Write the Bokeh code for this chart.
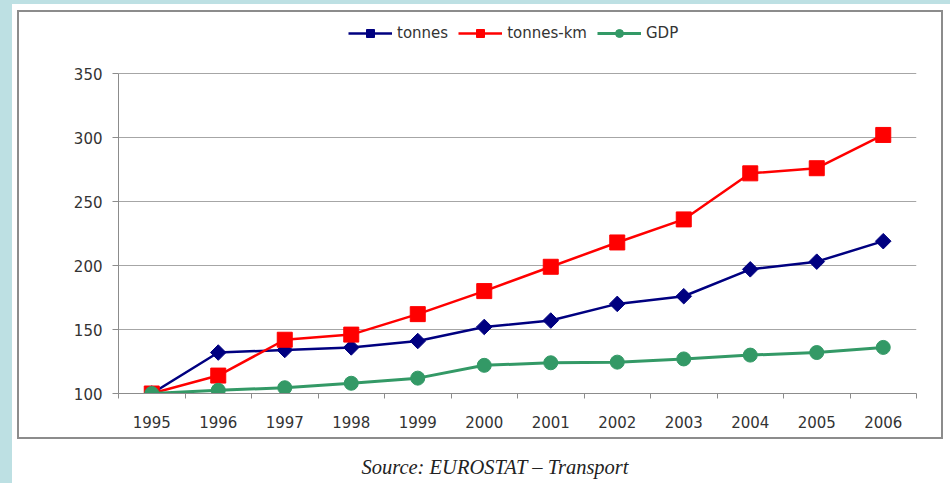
import math
from bokeh.plotting import figure
from bokeh.models import Range1d, FixedTicker, Legend, LegendItem, Div
from bokeh.layouts import column
from bokeh.embed import file_html
from bokeh.resources import INLINE

# ---- data ----
years = [1995, 1996, 1997, 1998, 1999, 2000, 2001, 2002, 2003, 2004, 2005, 2006]
tonnes = [100, 132, 134, 136, 141, 152, 157, 170, 176, 197, 203, 219]
tonnes_km = [100, 114, 142, 146, 162, 180, 199, 218, 236, 272, 276, 302]
gdp = [100, 102.5, 104.5, 108, 112, 122, 124, 124.5, 127, 130, 132, 136]
y_ticks = [100, 150, 200, 250, 300, 350]
x_labels = [str(y) for y in years]
source_text = "Source: EUROSTAT \u2013 Transport"

FONT = "DejaVu Sans"
TXT = "#333333"

# frame extends above the 350 line to hold the legend (320 px for 250 units)
y_top = y_ticks[-1] + 59 * (y_ticks[-1] - y_ticks[0]) / 320

p = figure(width=926, height=429, output_backend="svg", toolbar_location=None,
           x_range=Range1d(years[0] - 0.5, years[-1] + 0.5),
           y_range=Range1d(y_ticks[0], y_top),
           min_border_left=99, min_border_right=29, min_border_top=2, min_border_bottom=48)
p.margin = (6, 0, 0, 5)
p.styles = {"border": "2px solid #8C8C8C"}
p.background_fill_color = "white"
p.border_fill_color = "white"
p.outline_line_color = None

# x axis: labels at centres, ticks at boundaries
p.xaxis.ticker = FixedTicker(ticks=years, minor_ticks=[y - 0.5 for y in years] + [years[-1] + 0.5])
p.xaxis.major_label_overrides = {y: s for y, s in zip(years, x_labels)}
p.xaxis.major_tick_out = 0
p.xaxis.major_tick_in = 0
p.xaxis.minor_tick_out = 5
p.xaxis.minor_tick_in = 0
p.xaxis.minor_tick_line_color = "#8C8C8C"
p.xaxis.axis_line_color = "#8C8C8C"
p.xaxis.major_label_standoff = 17
p.xaxis.major_label_text_font = FONT
p.xaxis.major_label_text_font_size = "15px"
p.xaxis.major_label_text_color = TXT

p.yaxis.ticker = FixedTicker(ticks=y_ticks)
p.yaxis.bounds = (y_ticks[0], y_ticks[-1])
p.yaxis.major_tick_out = 6
p.yaxis.major_tick_in = 0
p.yaxis.minor_tick_line_color = None
p.yaxis.major_tick_line_color = "#8C8C8C"
p.yaxis.axis_line_color = "#8C8C8C"
p.yaxis.major_label_standoff = 10
p.yaxis.major_label_text_font = FONT
p.yaxis.major_label_text_font_size = "15px"
p.yaxis.major_label_text_color = TXT

p.xgrid.grid_line_color = None
p.ygrid.ticker = FixedTicker(ticks=y_ticks)
p.ygrid.grid_line_color = "#A6A6A6"
p.ygrid.grid_line_width = 1

NAVY = "#000080"
RED = "#FF0000"
GREEN = "#339966"

l1 = p.line(years, tonnes, line_color=NAVY, line_width=2.5)
m1 = p.scatter(years, tonnes, marker="square", size=11, angle=math.pi / 4,
               fill_color=NAVY, line_color=NAVY)
l2 = p.line(years, tonnes_km, line_color=RED, line_width=2.5)
m2 = p.scatter(years, tonnes_km, marker="square", size=15, fill_color=RED, line_color=RED)
l3 = p.line(years, gdp, line_color=GREEN, line_width=3)
m3 = p.scatter(years, gdp, marker="circle", size=14, fill_color=GREEN, line_color=GREEN)

legend = Legend(items=[
    LegendItem(label="tonnes", renderers=[l1, m1]),
    LegendItem(label="tonnes-km", renderers=[l2, m2]),
    LegendItem(label="GDP", renderers=[l3, m3]),
], orientation="horizontal", location=(230, 350))
legend.label_text_font = FONT
legend.label_text_font_size = "15px"
legend.label_text_color = TXT
legend.glyph_width = 44
legend.glyph_height = 20
legend.label_standoff = 5
legend.spacing = 10
legend.padding = 0
legend.margin = 0
legend.border_line_color = None
legend.background_fill_alpha = 0
p.add_layout(legend)

src = Div(text=source_text, width=600, height=26, margin=(14, 0, 0, 183),
          styles={"font-family": "Liberation Serif", "font-style": "italic",
                  "font-size": "20.5px", "text-align": "center", "color": "#222222"})

root = column(p, src, margin=(4, 0, 0, 12), width=938, height=479,
              styles={"background-color": "white"})

TEMPLATE = """{% block preamble %}<style>html, body { margin: 0 !important; padding: 0 !important; background: #BDE0E3 !important; }</style>{% endblock %}"""

open("out.html", "w").write(file_html(root, INLINE, template=TEMPLATE))
